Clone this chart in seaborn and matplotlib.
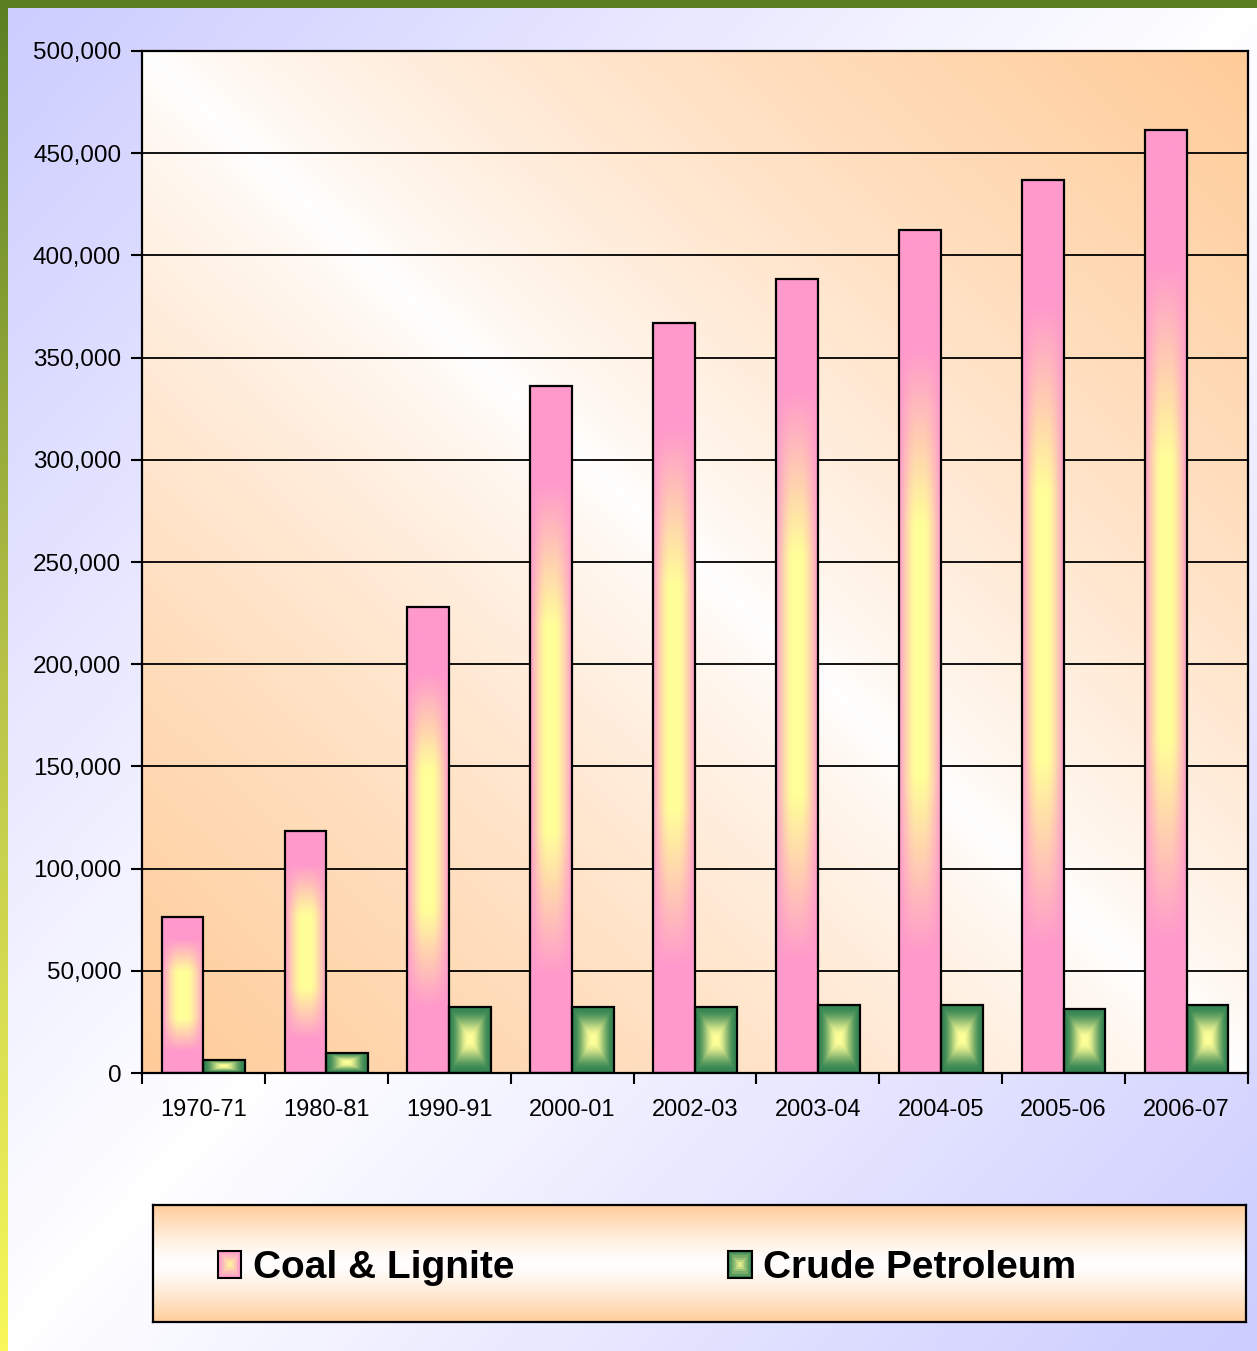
import numpy as np
import pandas as pd
import matplotlib
matplotlib.use("Agg")
import matplotlib.pyplot as plt
import seaborn as sns
from matplotlib.colors import to_rgb
from matplotlib.patches import Rectangle, Patch
from matplotlib.legend_handler import HandlerBase
from matplotlib.ticker import FuncFormatter

# ---------------- data ----------------
categories = ["1970-71", "1980-81", "1990-91", "2000-01", "2002-03",
              "2003-04", "2004-05", "2005-06", "2006-07"]
coal_lignite = [76300, 118500, 227800, 336200, 367000, 388600, 412500, 437000, 461500]
crude_petroleum = [6500, 10000, 32400, 32400, 32400, 33300, 33300, 31400, 33300]
series_names = ["Coal & Lignite", "Crude Petroleum"]
y_ticks = [0, 50000, 100000, 150000, 200000, 250000, 300000, 350000, 400000, 450000, 500000]

PINK = "#FF99CC"
GREEN = "#358553"
YELLOW = "#FFFF99"
ORANGE = "#FFCC99"
LAVENDER = "#CCCCFF"

df = pd.DataFrame({
    "Year": categories * 2,
    "Value": coal_lignite + crude_petroleum,
    "Series": [series_names[0]] * len(categories) + [series_names[1]] * len(categories),
})

sns.set_theme(style="white")
plt.rcParams["font.family"] = ["Liberation Sans", "DejaVu Sans"]

W, H = 1257, 1351
fig = plt.figure(figsize=(W / 100, H / 100), dpi=100)


def lerp(c0, c1, t):
    c0 = np.array(to_rgb(c0))
    c1 = np.array(to_rgb(c1))
    t = np.asarray(t)[..., None]
    return c0 * (1 - t) + c1 * t


# ---------- figure background ----------
bg = fig.add_axes([0, 0, 1, 1], zorder=-10)
u = np.linspace(0, 1, 300)[None, :]
v = np.linspace(1, 0, 300)[:, None]
s = np.abs(u - v)
bg.imshow(lerp("#FFFFFF", LAVENDER, s), extent=[0, 1, 0, 1], aspect="auto",
          interpolation="bilinear")
# left border strip (green -> yellow)
vv = np.linspace(0, 1, 200)[:, None] * np.ones((1, 2))
left_cols = np.where(vv[..., None] < 0.5,
                     lerp("#5A7F22", "#B8C448", np.clip(vv * 2, 0, 1)),
                     lerp("#B8C448", "#F8F85A", np.clip(vv * 2 - 1, 0, 1)))
bg.imshow(left_cols, extent=[0, 8 / W, 0, 1], aspect="auto", interpolation="bilinear")
bg.add_patch(Rectangle((0, 1 - 8 / H), 1, 8 / H, color="#5A7F22", lw=0))
bg.set_xlim(0, 1)
bg.set_ylim(0, 1)
bg.axis("off")

# ---------- main axes ----------
ax = fig.add_axes([142 / W, 1 - 1073 / H, (1248 - 142) / W, (1073 - 51) / H])
ax.patch.set_alpha(0)

sns.barplot(data=df, x="Year", y="Value", hue="Series", palette=[PINK, GREEN],
            width=0.68, saturation=1, edgecolor="black", linewidth=1.6,
            legend=False, ax=ax, errorbar=None)

# plot area gradient background
pu = np.linspace(0, 1, 300)[None, :]
pv = np.linspace(1, 0, 300)[:, None]
ps = np.clip(np.abs(pu + pv - 1), 0, 1) ** 0.75
ax.imshow(lerp("#FFFFFF", ORANGE, ps), extent=[0, 1, 0, 1], transform=ax.transAxes,
          aspect="auto", interpolation="bilinear", zorder=-1)


def smooth(k):
    k = np.clip(k, 0, 1)
    return k * k * (3 - 2 * k)


def pink_gradient(n=400, m=80):
    dx = np.abs(np.linspace(-1, 1, m))[None, :]
    dy = np.abs(np.linspace(-1, 1, n))[:, None]
    kx = np.clip((dx - 0.2) / 0.8, 0, 1) ** 1.5
    ky = np.clip((dy - 0.3) / 0.42, 0, 1)
    k = 1 - (1 - kx) * (1 - ky)
    return lerp(YELLOW, PINK, k)


def green_gradient(n=120, m=80):
    dx = np.abs(np.linspace(-1, 1, m))[None, :]
    dy = np.abs(np.linspace(-1, 1, n))[:, None]
    t = np.maximum(dx, dy)
    k = smooth((t - 0.05) / 0.9)
    return lerp(YELLOW, GREEN, k)


imgs = [pink_gradient(), green_gradient()]
for container, img in zip(ax.containers, imgs):
    for p in container.patches:
        x0, y0 = p.get_x(), p.get_y()
        w, h = p.get_width(), p.get_height()
        ax.imshow(img, extent=[x0, x0 + w, y0, y0 + h], aspect="auto",
                  interpolation="bilinear", zorder=2)
        p.set_facecolor("none")
        p.set_zorder(3)

ax.set_xlim(-0.5, len(categories) - 0.5)
ax.set_ylim(0, 500000)
ax.set_yticks(y_ticks)
ax.yaxis.set_major_formatter(FuncFormatter(lambda val, pos: f"{int(val):,}"))
ax.set_xticks(np.arange(-0.5, len(categories), 1), minor=True)
ax.set_xlabel("")
ax.set_ylabel("")

ax.set_axisbelow(True)
ax.yaxis.grid(True, color="black", linewidth=1.3)
ax.xaxis.grid(False)
for sp in ax.spines.values():
    sp.set_visible(True)
    sp.set_color("black")
    sp.set_linewidth(1.6)

ax.tick_params(axis="y", which="major", left=True, direction="out", length=8,
               width=1.5, color="black", labelsize=17.5, pad=7, labelcolor="black")
ax.tick_params(axis="x", which="major", bottom=True, length=0, labelsize=17,
               pad=19, labelcolor="black")
ax.tick_params(axis="x", which="minor", bottom=True, direction="out", length=8,
               width=1.5, color="black")

# ---------- legend box ----------
lax = fig.add_axes([153 / W, 1 - 1322 / H, (1246 - 153) / W, (1322 - 1205) / H])
lv = np.linspace(1, 0, 200)[:, None] * np.ones((1, 2))
lax.imshow(lerp("#FFFFFF", ORANGE, np.abs(2 * lv - 1) ** 1.3), extent=[0, 1, 0, 1],
           aspect="auto", interpolation="bilinear")
lax.set_xlim(0, 1)
lax.set_ylim(0, 1)
lax.set_xticks([])
lax.set_yticks([])
for sp in lax.spines.values():
    sp.set_visible(True)
    sp.set_color("black")
    sp.set_linewidth(1.6)


class GradHandler(HandlerBase):
    def __init__(self, edge):
        super().__init__()
        self.edge = edge

    def create_artists(self, legend, orig_handle, xdescent, ydescent, width,
                       height, fontsize, trans):
        arts = []
        levels = 6
        for i in range(levels):
            f = i / levels
            col = lerp(YELLOW, self.edge, 1 - f)
            ww = width * (1 - f)
            hh = height * (1 - f)
            r = Rectangle((-xdescent + (width - ww) / 2, -ydescent + (height - hh) / 2),
                          ww, hh, facecolor=col, edgecolor="black" if i == 0 else "none",
                          lw=1.5 if i == 0 else 0, transform=trans)
            arts.append(r)
        return arts


h1 = Patch(facecolor=PINK, edgecolor="black")
h2 = Patch(facecolor=GREEN, edgecolor="black")
leg = lax.legend(handles=[h1, h2], labels=series_names, loc="center left",
                 bbox_to_anchor=((218 - 153) / (1246 - 153), 0.46), ncol=2, frameon=False,
                 prop={"size": 28, "weight": "bold"}, handlelength=0.6, handleheight=0.7,
                 handletextpad=0.3, columnspacing=5.5, borderpad=0, borderaxespad=0,
                 handler_map={h1: GradHandler(PINK), h2: GradHandler(GREEN)})
for t in leg.get_texts():
    t.set_color("black")

fig.savefig("out.png", dpi=100)
